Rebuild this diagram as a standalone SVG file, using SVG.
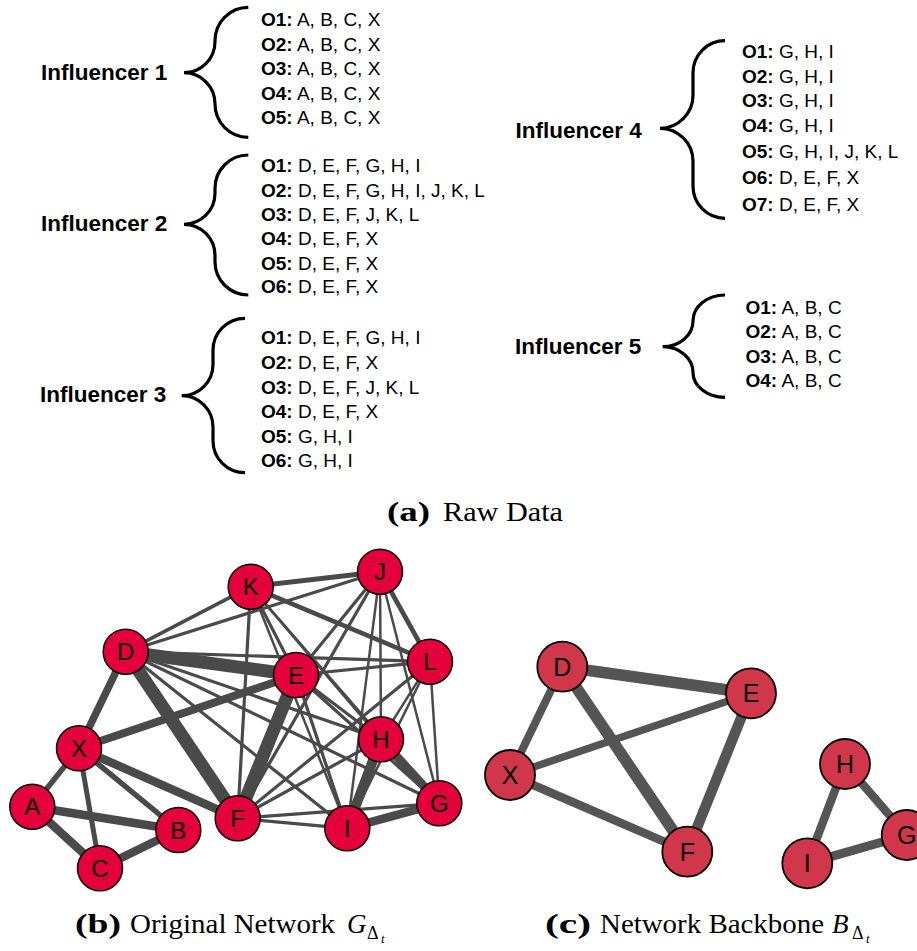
<svg xmlns="http://www.w3.org/2000/svg" width="917" height="951" viewBox="0 0 917 951">
<style>
.lab{font-family:"Liberation Sans",Arial,sans-serif;font-weight:bold;font-size:22.5px;fill:#000}
.item{font-family:"Liberation Sans",Arial,sans-serif;font-size:19px;fill:#000}
.k{font-weight:bold}
.brace{fill:none;stroke:#000;stroke-width:3.2}
.cap{font-family:"Liberation Serif","Times New Roman",serif;font-size:27px;fill:#000}
.capb{font-weight:bold}
.it{font-style:italic}
.nb circle{fill:#E4003B;stroke:#000;stroke-width:1.5}
.nc circle{fill:#D1374A;stroke:#000;stroke-width:1.8}
.nb text,.nc text{font-family:"Liberation Sans",Arial,sans-serif;font-size:24px;text-anchor:middle;fill:#000}
.nc text{font-size:25px}
.eb line{stroke:#4a4a4a}
.ec line{stroke:#555555}
</style>

<!-- Part (a) raw data -->
<g id="influencer1">
<text class="lab" x="41" y="80">Influencer 1</text>
<path class="brace" d="M248.3,7.3 C229.9,7.3 215,22.2 215,40.6 L215,41.7 C215,58.8 201.1,72.7 184,72.7 C201.1,72.7 215,86.6 215,103.7 L215,104 C215,122.4 229.9,137.3 248.3,137.3"/>
<text class="item" x="261" y="26"><tspan class="k">O1:</tspan> A, B, C, X</text>
<text class="item" x="261" y="51"><tspan class="k">O2:</tspan> A, B, C, X</text>
<text class="item" x="261" y="75"><tspan class="k">O3:</tspan> A, B, C, X</text>
<text class="item" x="261" y="99.5"><tspan class="k">O4:</tspan> A, B, C, X</text>
<text class="item" x="261" y="124"><tspan class="k">O5:</tspan> A, B, C, X</text>
</g>

<g id="influencer2">
<text class="lab" x="41" y="231">Influencer 2</text>
<path class="brace" d="M248.3,155 C229.9,155 215,169.9 215,188.3 L215,193.3 C215,210.4 201.1,224.3 184,224.3 C201.1,224.3 215,238.2 215,255.3 L215,261.7 C215,280.1 229.9,295 248.3,295"/>
<text class="item" x="261" y="171.5"><tspan class="k">O1:</tspan> D, E, F, G, H, I</text>
<text class="item" x="261" y="196.5"><tspan class="k">O2:</tspan> D, E, F, G, H, I, J, K, L</text>
<text class="item" x="261" y="221"><tspan class="k">O3:</tspan> D, E, F, J, K, L</text>
<text class="item" x="261" y="245"><tspan class="k">O4:</tspan> D, E, F, X</text>
<text class="item" x="261" y="269.5"><tspan class="k">O5:</tspan> D, E, F, X</text>
<text class="item" x="261" y="293"><tspan class="k">O6:</tspan> D, E, F, X</text>
</g>

<g id="influencer3">
<text class="lab" x="40" y="402">Influencer 3</text>
<path class="brace" d="M245,318.3 C227.3,318.3 213,332.6 213,350.3 L213,364.4 C213,381.7 199,395.7 181.7,395.7 C199,395.7 213,409.7 213,427 L213,440.7 C213,458.4 227.3,472.7 245,472.7"/>
<text class="item" x="261" y="343.5"><tspan class="k">O1:</tspan> D, E, F, G, H, I</text>
<text class="item" x="261" y="368.5"><tspan class="k">O2:</tspan> D, E, F, X</text>
<text class="item" x="261" y="393.5"><tspan class="k">O3:</tspan> D, E, F, J, K, L</text>
<text class="item" x="261" y="418"><tspan class="k">O4:</tspan> D, E, F, X</text>
<text class="item" x="261" y="442.5"><tspan class="k">O5:</tspan> G, H, I</text>
<text class="item" x="261" y="467"><tspan class="k">O6:</tspan> G, H, I</text>
</g>

<g id="influencer4">
<text class="lab" x="515.5" y="137.5">Influencer 4</text>
<path class="brace" d="M725,40.7 C707.3,40.7 693,55 693,72.7 L693,95.3 C693,113.5 678.2,128.3 660,128.3 C678.2,128.3 693,143.1 693,161.3 L693,186.3 C693,204 707.3,218.3 725,218.3"/>
<text class="item" x="742" y="58"><tspan class="k">O1:</tspan> G, H, I</text>
<text class="item" x="742" y="82.5"><tspan class="k">O2:</tspan> G, H, I</text>
<text class="item" x="742" y="107"><tspan class="k">O3:</tspan> G, H, I</text>
<text class="item" x="742" y="132"><tspan class="k">O4:</tspan> G, H, I</text>
<text class="item" x="742" y="157.5"><tspan class="k">O5:</tspan> G, H, I, J, K, L</text>
<text class="item" x="742" y="184"><tspan class="k">O6:</tspan> D, E, F, X</text>
<text class="item" x="742" y="211"><tspan class="k">O7:</tspan> D, E, F, X</text>
</g>

<g id="influencer5">
<text class="lab" x="515" y="354">Influencer 5</text>
<path class="brace" d="M725,295 C707.3,295 693,306.6 693,321 C693,335.2 679.4,346.7 662.7,346.7 C679.4,346.7 693,358.2 693,372.4 C693,386.1 707.3,397.3 725,397.3"/>
<text class="item" x="745.5" y="314"><tspan class="k">O1:</tspan> A, B, C</text>
<text class="item" x="745.5" y="338"><tspan class="k">O2:</tspan> A, B, C</text>
<text class="item" x="745.5" y="362.5"><tspan class="k">O3:</tspan> A, B, C</text>
<text class="item" x="745.5" y="387"><tspan class="k">O4:</tspan> A, B, C</text>
</g>

<g id="caption-a" class="cap">
<text class="capb" x="387" y="521" textLength="43" lengthAdjust="spacingAndGlyphs">(a)</text>
<text x="443" y="521" textLength="120" lengthAdjust="spacingAndGlyphs">Raw Data</text>
</g>

<!-- Part (b) original network -->
<g id="edges-b" class="eb" stroke-linecap="butt">
<line x1="32.3" y1="806.7" x2="178.3" y2="830" stroke-width="8.5"/>
<line x1="32.3" y1="806.7" x2="100" y2="868.3" stroke-width="8.5"/>
<line x1="178.3" y1="830" x2="100" y2="868.3" stroke-width="8.5"/>
<line x1="32.3" y1="806.7" x2="79" y2="748.3" stroke-width="5.5"/>
<line x1="178.3" y1="830" x2="79" y2="748.3" stroke-width="5.5"/>
<line x1="100" y1="868.3" x2="79" y2="748.3" stroke-width="5"/>
<line x1="79" y1="748.3" x2="125.7" y2="651.7" stroke-width="7.5"/>
<line x1="79" y1="748.3" x2="296" y2="675" stroke-width="8"/>
<line x1="79" y1="748.3" x2="237.7" y2="818.3" stroke-width="8.5"/>
<line x1="125.7" y1="651.7" x2="296" y2="675" stroke-width="13"/>
<line x1="125.7" y1="651.7" x2="237.7" y2="818.3" stroke-width="13"/>
<line x1="296" y1="675" x2="237.7" y2="818.3" stroke-width="13"/>
<!-- DEF - GHI -->
<line x1="125.7" y1="651.7" x2="439.3" y2="803.3" stroke-width="3.2"/>
<line x1="125.7" y1="651.7" x2="381" y2="739.3" stroke-width="3.2"/>
<line x1="125.7" y1="651.7" x2="347.3" y2="828.3" stroke-width="3.2"/>
<line x1="296" y1="675" x2="439.3" y2="803.3" stroke-width="3.2"/>
<line x1="296" y1="675" x2="381" y2="739.3" stroke-width="3.2"/>
<line x1="296" y1="675" x2="347.3" y2="828.3" stroke-width="3.2"/>
<line x1="237.7" y1="818.3" x2="439.3" y2="803.3" stroke-width="3.2"/>
<line x1="237.7" y1="818.3" x2="381" y2="739.3" stroke-width="3.2"/>
<line x1="237.7" y1="818.3" x2="347.3" y2="828.3" stroke-width="3.2"/>
<!-- DEF - JKL -->
<line x1="125.7" y1="651.7" x2="380" y2="571.7" stroke-width="3.2"/>
<line x1="125.7" y1="651.7" x2="250.7" y2="586.7" stroke-width="3.6"/>
<line x1="125.7" y1="651.7" x2="430" y2="661.7" stroke-width="3.2"/>
<line x1="296" y1="675" x2="380" y2="571.7" stroke-width="3.2"/>
<line x1="296" y1="675" x2="250.7" y2="586.7" stroke-width="3.2"/>
<line x1="296" y1="675" x2="430" y2="661.7" stroke-width="3.2"/>
<line x1="237.7" y1="818.3" x2="380" y2="571.7" stroke-width="3.2"/>
<line x1="237.7" y1="818.3" x2="250.7" y2="586.7" stroke-width="3.2"/>
<line x1="237.7" y1="818.3" x2="430" y2="661.7" stroke-width="3.2"/>
<!-- JKL -->
<line x1="250.7" y1="586.7" x2="380" y2="571.7" stroke-width="5"/>
<line x1="250.7" y1="586.7" x2="430" y2="661.7" stroke-width="4.6"/>
<line x1="380" y1="571.7" x2="430" y2="661.7" stroke-width="4.8"/>
<!-- GHI - JKL -->
<line x1="439.3" y1="803.3" x2="380" y2="571.7" stroke-width="2.5"/>
<line x1="439.3" y1="803.3" x2="250.7" y2="586.7" stroke-width="2.5"/>
<line x1="439.3" y1="803.3" x2="430" y2="661.7" stroke-width="2.5"/>
<line x1="381" y1="739.3" x2="380" y2="571.7" stroke-width="2.5"/>
<line x1="381" y1="739.3" x2="250.7" y2="586.7" stroke-width="2.5"/>
<line x1="381" y1="739.3" x2="430" y2="661.7" stroke-width="2.5"/>
<line x1="347.3" y1="828.3" x2="380" y2="571.7" stroke-width="2.5"/>
<line x1="347.3" y1="828.3" x2="250.7" y2="586.7" stroke-width="2.5"/>
<line x1="347.3" y1="828.3" x2="430" y2="661.7" stroke-width="2.5"/>
<!-- GHI -->
<line x1="381" y1="739.3" x2="347.3" y2="828.3" stroke-width="10"/>
<line x1="381" y1="739.3" x2="439.3" y2="803.3" stroke-width="9"/>
<line x1="347.3" y1="828.3" x2="439.3" y2="803.3" stroke-width="8.5"/>
</g>

<g id="node-b-K" class="nb"><circle cx="250.7" cy="586.7" r="22.5"/><text x="250.7" y="595.3">K</text></g>
<g id="node-b-J" class="nb"><circle cx="380" cy="571.7" r="22.5"/><text x="380" y="580.3">J</text></g>
<g id="node-b-D" class="nb"><circle cx="125.7" cy="651.7" r="22.5"/><text x="125.7" y="660.3">D</text></g>
<g id="node-b-E" class="nb"><circle cx="296" cy="675" r="22.5"/><text x="296" y="683.6">E</text></g>
<g id="node-b-L" class="nb"><circle cx="430" cy="661.7" r="22.5"/><text x="430" y="670.3">L</text></g>
<g id="node-b-X" class="nb"><circle cx="79" cy="748.3" r="22.5"/><text x="79" y="756.9">X</text></g>
<g id="node-b-H" class="nb"><circle cx="381" cy="739.3" r="22.5"/><text x="381" y="747.9">H</text></g>
<g id="node-b-A" class="nb"><circle cx="32.3" cy="806.7" r="22.5"/><text x="32.3" y="815.3">A</text></g>
<g id="node-b-B" class="nb"><circle cx="178.3" cy="830" r="22.5"/><text x="178.3" y="838.6">B</text></g>
<g id="node-b-F" class="nb"><circle cx="237.7" cy="818.3" r="22.5"/><text x="237.7" y="826.9">F</text></g>
<g id="node-b-I" class="nb"><circle cx="347.3" cy="828.3" r="22.5"/><text x="347.3" y="836.9">I</text></g>
<g id="node-b-G" class="nb"><circle cx="439.3" cy="803.3" r="22.5"/><text x="439.3" y="811.9">G</text></g>
<g id="node-b-C" class="nb"><circle cx="100" cy="868.3" r="22.5"/><text x="100" y="876.9">C</text></g>

<!-- Part (c) backbone -->
<g id="edges-c" class="ec">
<line x1="562.3" y1="666.7" x2="751" y2="693.3" stroke-width="11.5"/>
<line x1="562.3" y1="666.7" x2="687.3" y2="851.7" stroke-width="11.5"/>
<line x1="751" y1="693.3" x2="687.3" y2="851.7" stroke-width="10.5"/>
<line x1="510" y1="775" x2="562.3" y2="666.7" stroke-width="8"/>
<line x1="510" y1="775" x2="751" y2="693.3" stroke-width="7.5"/>
<line x1="510" y1="775" x2="687.3" y2="851.7" stroke-width="8.5"/>
<line x1="845" y1="764" x2="807.3" y2="863.3" stroke-width="8.5"/>
<line x1="845" y1="764" x2="906.7" y2="835" stroke-width="8.5"/>
<line x1="807.3" y1="863.3" x2="906.7" y2="835" stroke-width="9"/>
</g>

<g id="node-c-D" class="nc"><circle cx="562.3" cy="666.7" r="25"/><text x="562.3" y="675.7">D</text></g>
<g id="node-c-E" class="nc"><circle cx="751" cy="693.3" r="25"/><text x="751" y="702.3">E</text></g>
<g id="node-c-X" class="nc"><circle cx="510" cy="775" r="25"/><text x="510" y="784">X</text></g>
<g id="node-c-F" class="nc"><circle cx="687.3" cy="851.7" r="25"/><text x="687.3" y="860.7">F</text></g>
<g id="node-c-H" class="nc"><circle cx="845" cy="764" r="25"/><text x="845" y="773">H</text></g>
<g id="node-c-I" class="nc"><circle cx="807.3" cy="863.3" r="25"/><text x="807.3" y="872.3">I</text></g>
<g id="node-c-G" class="nc"><circle cx="906.7" cy="835" r="25"/><text x="906.7" y="844">G</text></g>

<g id="caption-b" class="cap">
<text class="capb" x="75" y="933" textLength="46" lengthAdjust="spacingAndGlyphs">(b)</text>
<text x="130" y="933" textLength="205" lengthAdjust="spacingAndGlyphs">Original Network</text>
<text class="it" x="347" y="933">G</text>
<text x="367" y="939" font-size="18">Δ</text>
<text class="it" x="381" y="942.5" font-size="13">t</text>
</g>

<g id="caption-c" class="cap">
<text class="capb" x="545" y="933" textLength="46" lengthAdjust="spacingAndGlyphs">(c)</text>
<text x="600" y="933" textLength="224" lengthAdjust="spacingAndGlyphs">Network Backbone</text>
<text class="it" x="832" y="933">B</text>
<text x="852" y="939" font-size="18">Δ</text>
<text class="it" x="866" y="942.5" font-size="13">t</text>
</g>
</svg>
